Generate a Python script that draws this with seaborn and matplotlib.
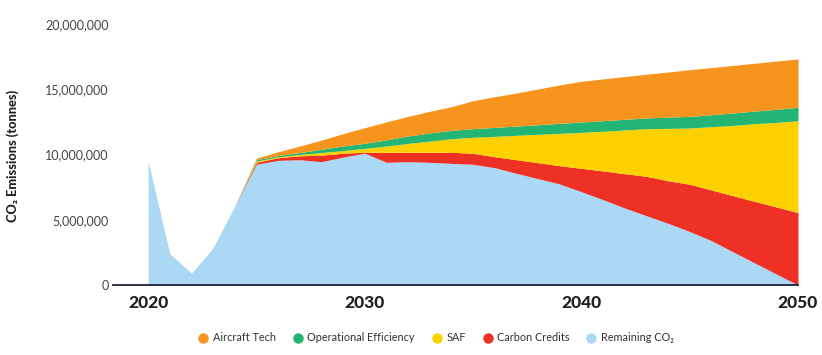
import numpy as np
import pandas as pd
import seaborn as sns
import matplotlib.pyplot as plt
from matplotlib.lines import Line2D
from matplotlib.ticker import FuncFormatter

# values in million tonnes
years = list(range(2020, 2051))
remaining = [9.50, 2.40, 0.90, 2.85, 6.05, 9.25, 9.55, 9.60, 9.45, 9.80,
             10.10, 9.40, 9.45, 9.40, 9.32, 9.25, 8.99, 8.56, 8.15, 7.74,
             7.15, 6.54, 5.90, 5.31, 4.73, 4.10, 3.40, 2.54, 1.69, 0.84, 0.00]
carbon_credits = [0, 0, 0, 0, 0, 0.15, 0.20, 0.30, 0.50, 0.30,
                  0.07, 0.77, 0.72, 0.77, 0.85, 0.84, 0.84, 1.04, 1.22, 1.40,
                  1.79, 2.20, 2.63, 3.02, 3.26, 3.62, 3.88, 4.30, 4.72, 5.14, 5.54]
saf = [0, 0, 0, 0, 0, 0.10, 0.07, 0.10, 0.20, 0.20,
       0.30, 0.48, 0.68, 0.86, 1.04, 1.23, 1.56, 1.87, 2.18, 2.48,
       2.76, 3.04, 3.35, 3.65, 4.01, 4.31, 4.85, 5.39, 5.95, 6.48, 7.05]
op_eff = [0, 0, 0, 0, 0, 0.10, 0.10, 0.15, 0.25, 0.35,
          0.39, 0.47, 0.57, 0.62, 0.64, 0.66, 0.69, 0.71, 0.73, 0.77,
          0.79, 0.81, 0.82, 0.82, 0.87, 0.89, 0.92, 0.95, 0.97, 1.00, 1.03]
aircraft = [0, 0, 0, 0, 0, 0.12, 0.28, 0.50, 0.70, 0.95,
            1.19, 1.38, 1.50, 1.66, 1.81, 2.14, 2.35, 2.53, 2.74, 2.94,
            3.12, 3.20, 3.27, 3.35, 3.45, 3.58, 3.61, 3.65, 3.66, 3.70, 3.70]

labels = ['Remaining CO\u2082', 'Carbon Credits', 'SAF', 'Operational Efficiency', 'Aircraft Tech']
colors = ['#ABD8F5', '#EE3124', '#FDD000', '#23B574', '#F7941E']
xticks = [2020, 2030, 2040, 2050]

df = pd.DataFrame({'year': years, labels[0]: remaining, labels[1]: carbon_credits,
                   labels[2]: saf, labels[3]: op_eff, labels[4]: aircraft})

sns.set_theme(style='white')
plt.rcParams['font.family'] = ['Lato', 'DejaVu Sans']

fig = plt.figure(figsize=(8.22, 3.55), dpi=100)
ax = fig.add_axes([0.1375, 0.1972, 0.8333, 0.7352])

ax.stackplot(df['year'], [df[l] * 1e6 for l in labels], colors=colors, linewidth=0)

ax.set_xlim(2018.38, 2050)
ax.set_ylim(0, 20e6)
ax.set_xticks(xticks)
ax.set_xticklabels([str(x) for x in xticks], fontsize=12.5, fontweight='black', color='#231F20')
ax.set_yticks([0, 5e6, 10e6, 15e6, 20e6])
ax.yaxis.set_major_formatter(FuncFormatter(lambda v, p: f'{int(v):,}'))
ax.tick_params(axis='y', labelsize=9, colors='#444444', length=0, pad=3)
ax.tick_params(axis='x', length=0, pad=7)

sns.despine(ax=ax, left=True)
ax.spines['bottom'].set_color('#1E2233')
ax.spines['bottom'].set_linewidth(1.3)

fig.text(0.016, 0.562, 'CO\u2082 Emissions (tonnes)', rotation=90, ha='center', va='center',
         fontsize=9.2, fontweight='black', color='#231F20')

handles = [Line2D([0], [0], marker='o', linestyle='', markersize=6.5,
                  markerfacecolor=c, markeredgecolor=c)
           for c in colors[::-1]]
fig.legend(handles, labels[::-1], loc='center', bbox_to_anchor=(0.531, 0.048), ncol=5,
           frameon=False, fontsize=7.8, handlelength=0.8, handletextpad=0.5,
           columnspacing=1.6, labelcolor='#333333')

fig.savefig('out.png', dpi=100)
